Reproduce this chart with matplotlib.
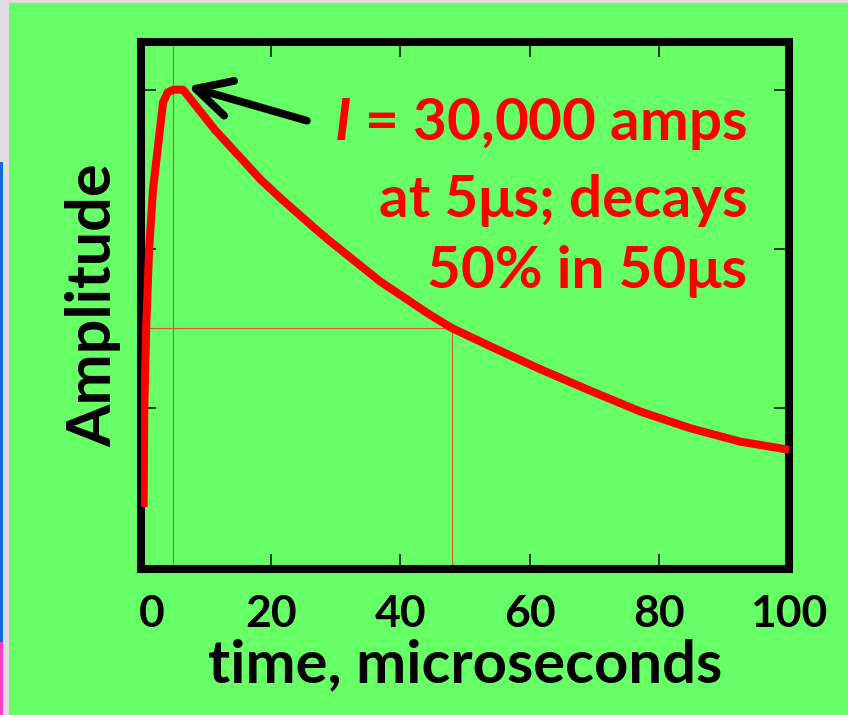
import matplotlib
matplotlib.use("Agg")
import matplotlib.pyplot as plt
from matplotlib.patches import Rectangle
from matplotlib.transforms import ScaledTranslation

plt.rcParams['font.family'] = ['Lato', 'DejaVu Sans']
plt.rcParams['mathtext.fontset'] = 'custom'
plt.rcParams['mathtext.it'] = 'Lato:italic:bold'
plt.rcParams['mathtext.rm'] = 'Lato:bold'

# pulse shape (time in microseconds, relative amplitude)
time_us = [0.4, 0.45, 0.5, 0.8, 1.25, 1.85, 2.2, 3.4, 4.1, 5.0, 6.5,
           11.4, 18.5, 21.5, 27.1, 29.2, 36.9, 44.6, 48.0, 53.9, 61.6,
           69.3, 77.1, 84.8, 92.5, 100.0]
amplitude = [0.125, 0.22, 0.33, 0.50, 0.665, 0.79, 0.832, 0.973, 0.994, 1.0,
             1.0, 0.916, 0.811, 0.773, 0.706, 0.682, 0.598, 0.528, 0.500,
             0.462, 0.414, 0.369, 0.325, 0.290, 0.262, 0.245]

peak_time = 5.0
half_time = 48.0
half_level = 0.5

x_ticks = [0, 20, 40, 60, 80, 100]
y_ticks = [0, 1/3, 2/3, 1.0]

note_lines = [r"$\mathit{I}$ = 30,000 amps", "at 5μs; decays", "50% in 50μs"]
note_base = [0.895, 0.733, 0.584]

arrow_tail = (25.6, 0.935)
arrow_tip = (7.2, 1.007)

green = '#66ff66'
red = '#ff0000'
guide = '#c8602a'

fig = plt.figure(figsize=(8.48, 7.15), dpi=100, facecolor=green)

# screenshot edges
fig.patches.append(Rectangle((0, 0), 9/848, 1, transform=fig.transFigure,
                             facecolor='#dedcde', edgecolor='none'))
fig.patches.append(Rectangle((0, 1 - 3/715), 1, 3/715, transform=fig.transFigure,
                             facecolor='#dedcde', edgecolor='none'))
fig.patches.append(Rectangle((0, 1 - 642/715), 3/848, (642-162)/715,
                             transform=fig.transFigure,
                             facecolor='#0a6cd8', edgecolor='none'))
fig.patches.append(Rectangle((0, 0), 3/848, 1 - 642/715, transform=fig.transFigure,
                             facecolor='#ff3ad0', edgecolor='none'))

ax = fig.add_axes([141/848, 1 - 569/715, (789-141)/848, (569-42)/715])
ax.set_facecolor(green)
ax.set_xlim(0, 100)
ax.set_ylim(-0.005, 1.1)

# guide lines
ax.axvline(peak_time, color=guide, lw=0.8, zorder=1)
ax.plot([half_time, half_time], [-0.005, half_level], color=guide, lw=0.8, zorder=1)
ax.plot([0, half_time], [half_level, half_level], color=guide, lw=0.8, zorder=1)

ax.plot(time_us, amplitude, color=red, lw=5.8, solid_joinstyle='round',
        solid_capstyle='butt', zorder=3)

for spine in ax.spines.values():
    spine.set_linewidth(5.8)
    spine.set_color('black')

ax.set_xticks(x_ticks)
ax.set_xticklabels([str(v) for v in x_ticks])
ax.set_yticks(y_ticks)
ax.set_yticklabels([])
ax.tick_params(direction='in', length=10.8, width=1.1, top=True, right=True,
               labelsize=32, pad=18)
for lab in ax.get_xticklabels():
    lab.set_fontweight('bold')
first = ax.get_xticklabels()[0]
first.set_transform(first.get_transform() + ScaledTranslation(0.11, 0, fig.dpi_scale_trans))

ax.set_xlabel("time, microseconds", fontsize=43, fontweight='bold', labelpad=3)
ax.set_ylabel("Amplitude", fontsize=44, fontweight='bold', labelpad=-4)

for line, yb in zip(note_lines, note_base):
    ax.text(93.6, yb, line, color=red, fontsize=42, fontweight='bold',
            ha='right', va='baseline', zorder=4)

ax.annotate('', xy=arrow_tip, xytext=arrow_tail,
            arrowprops=dict(arrowstyle='->,head_length=1.25,head_width=0.65',
                            mutation_scale=20, lw=5.6, color='black',
                            shrinkA=0, shrinkB=0),
            annotation_clip=False, zorder=5)

fig.savefig('out.png', dpi=100, facecolor=green)
